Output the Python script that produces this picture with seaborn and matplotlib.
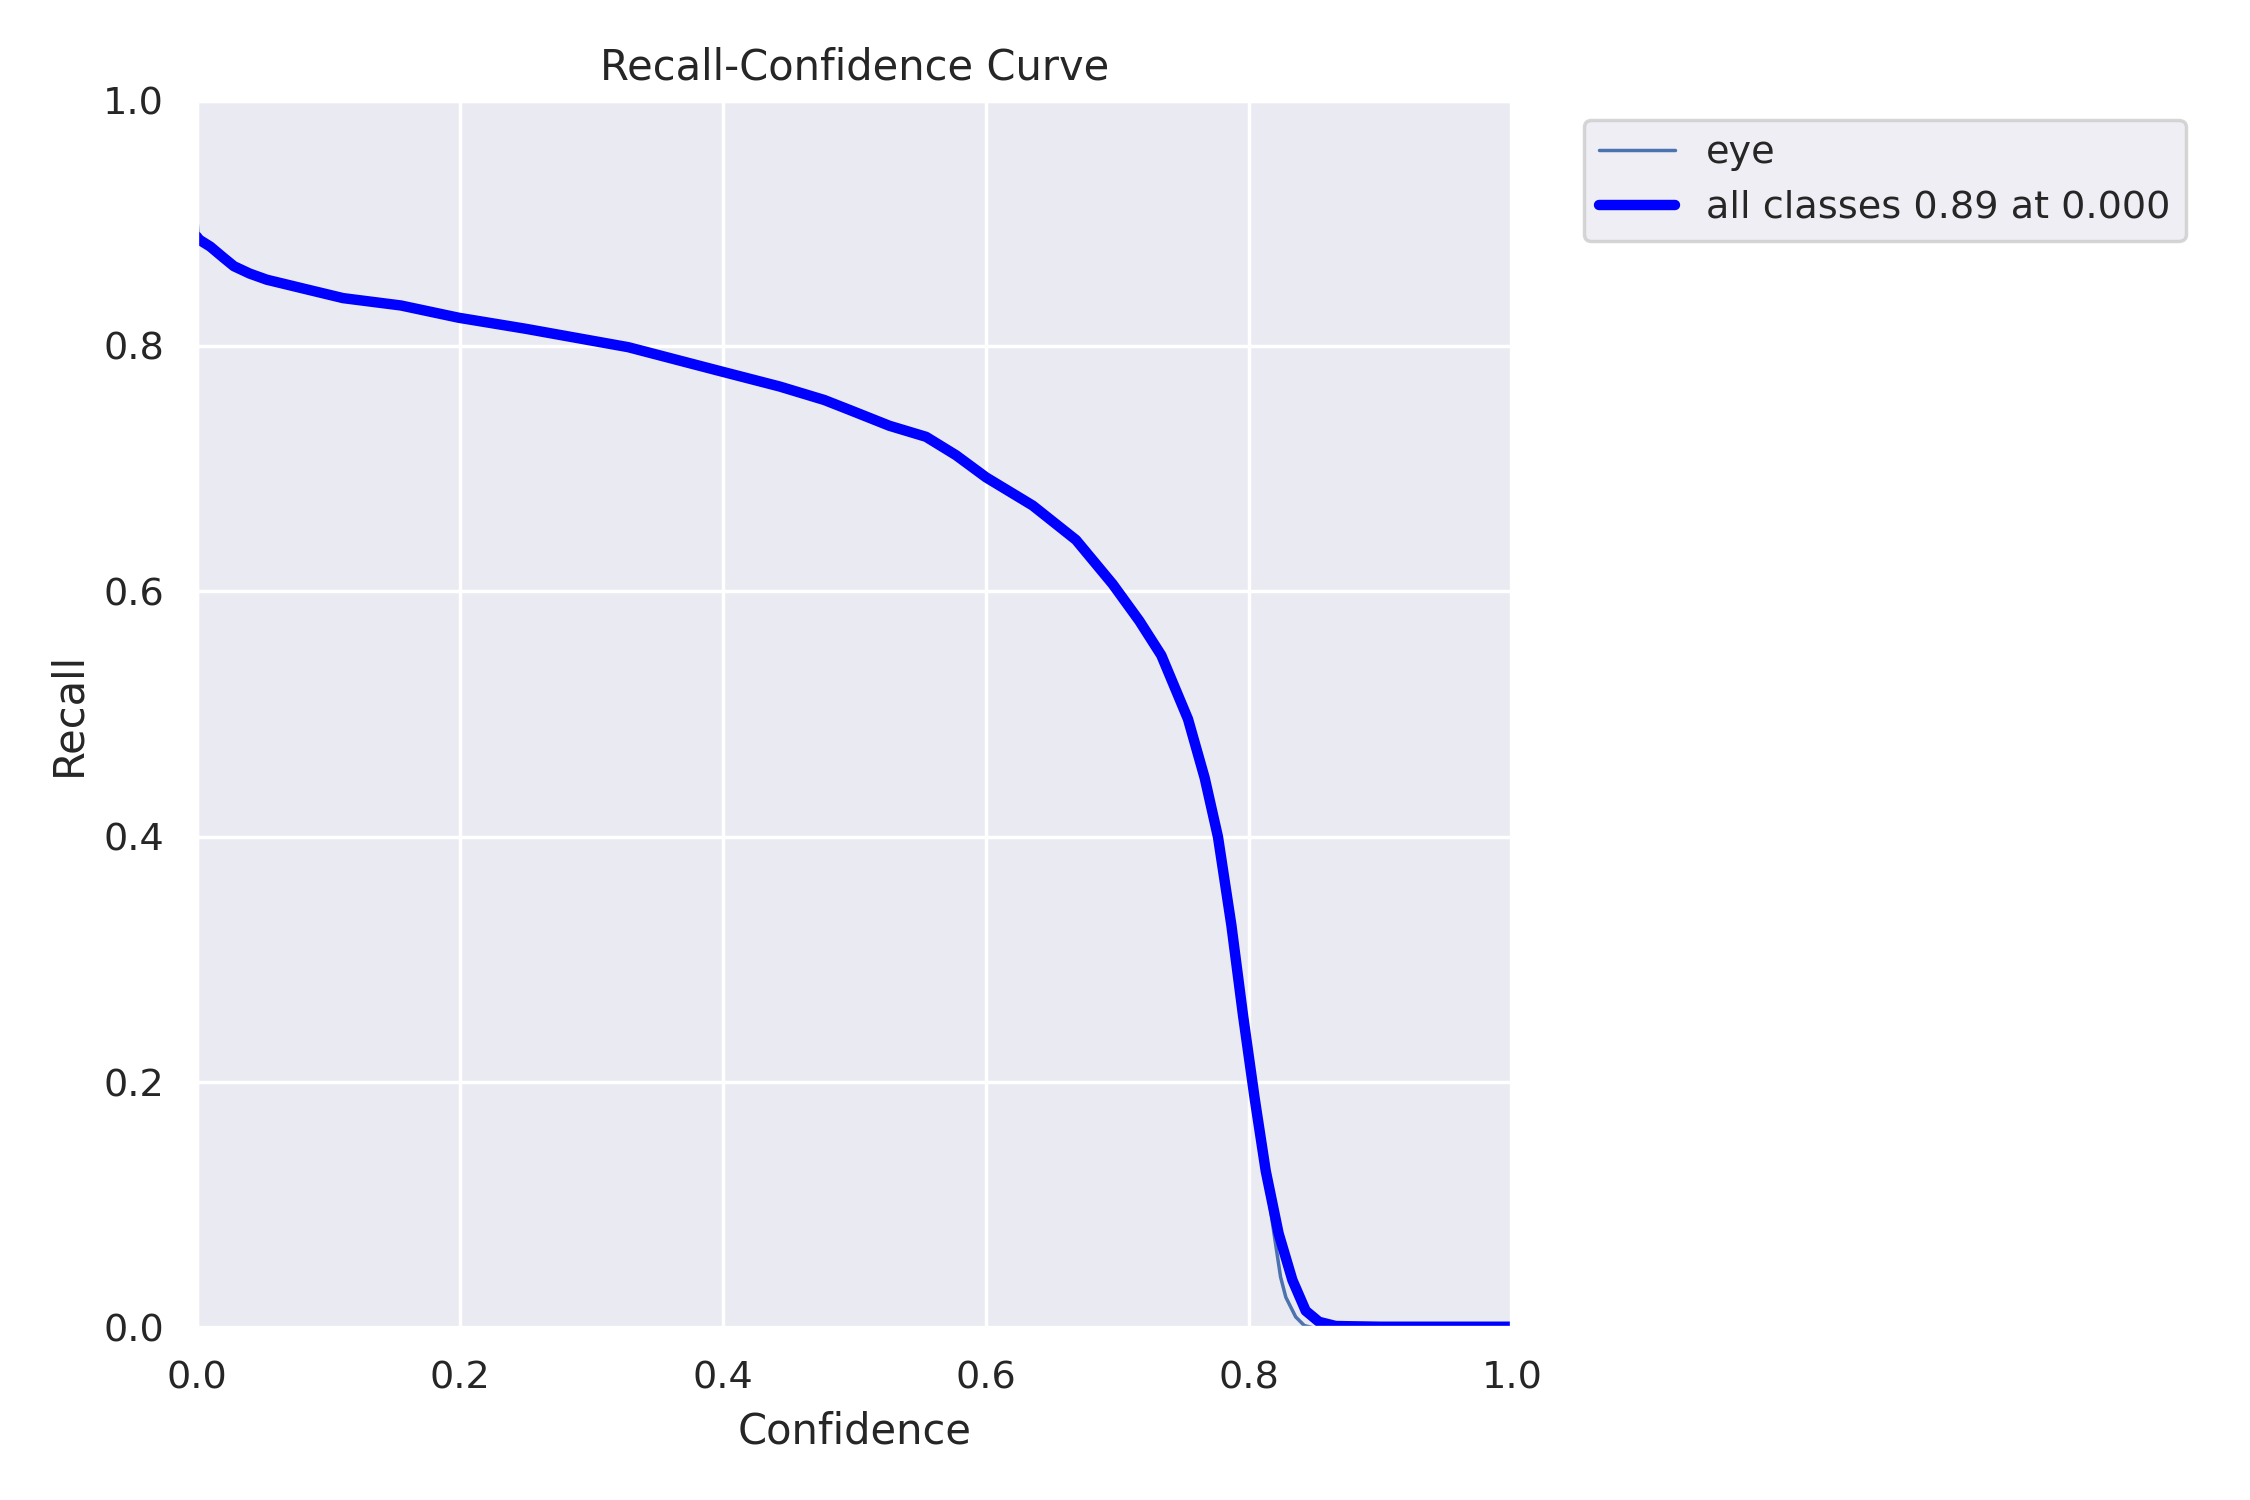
import numpy as np
import matplotlib
matplotlib.use("Agg")
import matplotlib.pyplot as plt
import seaborn as sns

# "all classes" (smoothed) curve
conf_all = [0.0, 0.001, 0.01, 0.02, 0.028, 0.04, 0.053, 0.08, 0.111, 0.155,
            0.199, 0.25, 0.328, 0.396, 0.443, 0.477, 0.496, 0.5265, 0.5544,
            0.5772, 0.60, 0.6355, 0.6684, 0.6963, 0.7166, 0.7333, 0.7536,
            0.7663, 0.7764, 0.7866, 0.7954, 0.8043, 0.8127, 0.8225, 0.833,
            0.8431, 0.8532, 0.8659, 0.876, 0.90, 1.0]
recall_all = [0.889, 0.887, 0.881, 0.872, 0.865, 0.859, 0.854, 0.847, 0.839,
              0.833, 0.823, 0.814, 0.799, 0.780, 0.767, 0.756, 0.748, 0.735,
              0.726, 0.711, 0.693, 0.670, 0.642, 0.606, 0.576, 0.548, 0.496,
              0.448, 0.400, 0.328, 0.255, 0.187, 0.128, 0.077, 0.039, 0.014,
              0.005, 0.0016, 0.0014, 0.001, 0.001]

# "eye" (raw) curve
conf_eye = [0.0, 0.001, 0.01, 0.02, 0.028, 0.04, 0.053, 0.08, 0.111, 0.155,
            0.199, 0.25, 0.328, 0.396, 0.443, 0.477, 0.496, 0.5265, 0.5544,
            0.5772, 0.60, 0.6355, 0.6684, 0.6963, 0.7166, 0.7333, 0.7536,
            0.7663, 0.7764, 0.7866, 0.7954, 0.8043, 0.812, 0.819, 0.824,
            0.828, 0.8355, 0.842, 0.849, 0.90, 1.0]
recall_eye = [0.902, 0.887, 0.880, 0.871, 0.864, 0.858, 0.853, 0.846, 0.838,
              0.832, 0.822, 0.813, 0.798, 0.779, 0.766, 0.755, 0.747, 0.734,
              0.725, 0.710, 0.692, 0.669, 0.641, 0.605, 0.575, 0.547, 0.495,
              0.447, 0.399, 0.327, 0.254, 0.186, 0.128, 0.077, 0.0415,
              0.025, 0.009, 0.002, 0.0, 0.0, 0.0]

class_name = "eye"
all_label = "all classes 0.89 at 0.000"

sns.set_theme(style="darkgrid")
fig, ax = plt.subplots(figsize=(9, 6), dpi=250)
fig.subplots_adjust(left=0.0876, right=0.6720, top=0.933, bottom=0.1147)

sns.lineplot(x=conf_eye, y=recall_eye, ax=ax, linewidth=1,
             color=sns.color_palette()[0], label=class_name)
sns.lineplot(x=conf_all, y=recall_all, ax=ax, linewidth=3, color="blue",
             label=all_label)

ax.set_xlim(0, 1)
ax.set_ylim(0, 1)
ax.set_xlabel("Confidence")
ax.set_ylabel("Recall")
ax.set_title("Recall-Confidence Curve")
ax.legend(bbox_to_anchor=(1.04, 1), loc="upper left")
fig.savefig("out.png", dpi=250)
